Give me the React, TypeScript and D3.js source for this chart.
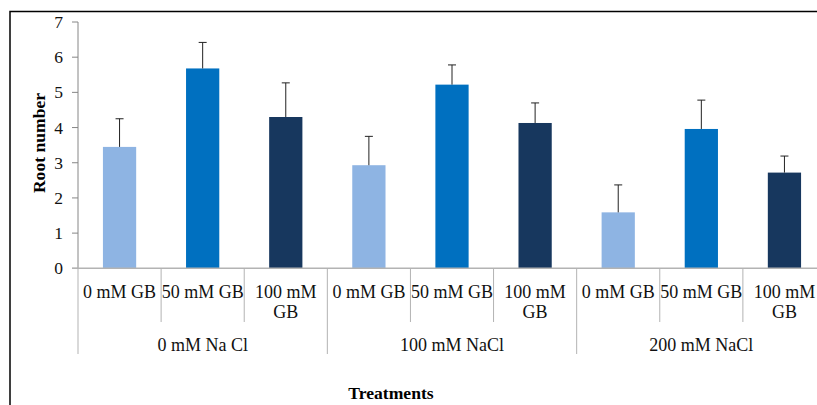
import React from 'react';
import * as d3 from 'd3';

// salt levels (outer groups) and glycine betaine levels (inner categories)
const groups = ['0 mM Na Cl', '100 mM NaCl', '200 mM NaCl'];
const treatments = ['0 mM GB', '50 mM GB', '100 mM GB'];
const colors = ['#8EB4E3', '#0070C0', '#17375E'];

// root number means and upper error per bar, group by group
const means = [3.45, 5.68, 4.3, 2.93, 5.22, 4.13, 1.59, 3.96, 2.72];
const errors = [0.8, 0.74, 0.97, 0.82, 0.56, 0.57, 0.78, 0.82, 0.47];
const yTicks = [0, 1, 2, 3, 4, 5, 6, 7];

const font = 'Times New Roman, Liberation Serif, serif';

// long category names wrap onto two lines like in the original
const wrap = (s: string) => {
  if (s.length <= 8) return [s];
  const i = s.lastIndexOf(' ');
  return [s.slice(0, i), s.slice(i + 1)];
};

const App = () => {
  const width = 817;
  const height = 405;
  const left = 78;
  const right = 826;
  const baseY = 268.3;

  const slots = groups.flatMap((g, gi) => treatments.map((t, ti) => ({ g, gi, t, ti, k: gi * 3 + ti })));

  const x = d3.scaleBand<number>().domain(slots.map(d => d.k)).range([left, right]).padding(0);
  const y = d3.scaleLinear().domain([0, 7]).range([baseY, 22]);
  const bw = x.bandwidth() * 0.4;
  const gridGray = '#B3B3B3';
  const txt = '#111';

  return (
    <svg width={width} height={height} style={{ position: 'absolute', left: 0, top: 0 }}>
      <rect x={0} y={0} width={width} height={height} fill="#fff" />
      <rect x={10} y={11.5} width={840} height={440} fill="none" stroke="#000" strokeWidth={1.5} />

      {/* y axis */}
      <line x1={left} x2={left} y1={y(7)} y2={baseY} stroke="#868686" />
      {yTicks.map(t => (
        <g key={t}>
          <line x1={left - 6} x2={left} y1={y(t)} y2={y(t)} stroke="#868686" />
          <text x={63} y={y(t)} dy="0.35em" textAnchor="end" fontSize={17.5} fill={txt} fontFamily={font}>{t}</text>
        </g>
      ))}
      <text transform={`translate(39,${143}) rotate(-90)`} textAnchor="middle" fontSize={17.6} fontWeight="bold" dy="0.35em" fontFamily={font}>
        Root number
      </text>

      {/* bars + error bars */}
      {slots.map(d => {
        const cx = (x(d.k) as number) + x.bandwidth() / 2;
        const v = means[d.k];
        const e = errors[d.k];
        return (
          <g key={d.k}>
            <rect x={cx - bw / 2} y={y(v)} width={bw} height={baseY - y(v)} fill={colors[d.ti]} />
            <line x1={cx} x2={cx} y1={y(v)} y2={y(v + e)} stroke="#222" />
            <line x1={cx - 4} x2={cx + 4} y1={y(v + e)} y2={y(v + e)} stroke="#222" />
          </g>
        );
      })}

      {/* baseline */}
      <line x1={left - 6} x2={right} y1={baseY} y2={baseY} stroke={gridGray} strokeWidth={1.5} />

      {/* category separators and labels */}
      {slots.map(d => {
        const x0 = x(d.k) as number;
        const cx = x0 + x.bandwidth() / 2;
        const lines = wrap(d.t);
        return (
          <g key={'c' + d.k}>
            <line x1={x0} x2={x0} y1={baseY} y2={d.ti === 0 ? 354 : 322} stroke={gridGray} />
            {lines.map((l, i) => (
              <text key={i} x={cx} y={292 + i * 20} dy="0.35em" textAnchor="middle" fontSize={18} fill={txt} fontFamily={font}>{l}</text>
            ))}
          </g>
        );
      })}
      <line x1={right} x2={right} y1={baseY} y2={354} stroke={gridGray} />

      {groups.map((g, gi) => {
        const x0 = x(gi * 3) as number;
        const x1 = (x(gi * 3 + 2) as number) + x.bandwidth();
        return (
          <text key={g} x={(x0 + x1) / 2} y={345} dy="0.35em" textAnchor="middle" fontSize={18} fill={txt} fontFamily={font}>{g}</text>
        );
      })}

      <text x={391} y={393} dy="0.35em" textAnchor="middle" fontSize={17.6} fontWeight="bold" fontFamily={font}>Treatments</text>
    </svg>
  );
};

export default App;
